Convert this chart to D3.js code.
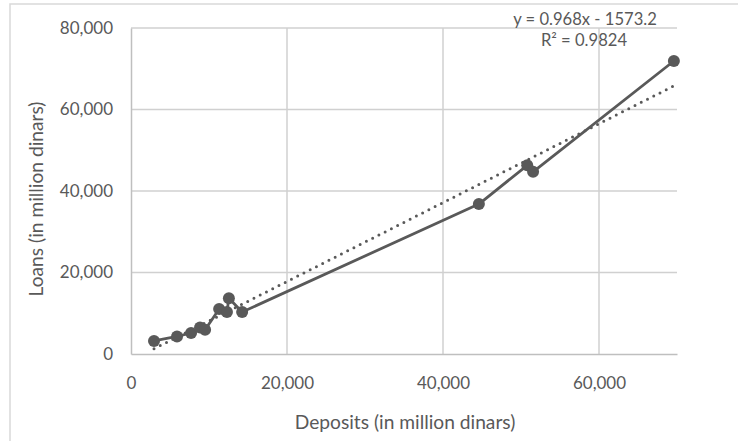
<!DOCTYPE html>
<html>
<head>
<meta charset="utf-8">
<script src="https://cdn.jsdelivr.net/npm/d3@7"></script>
<style>
  html, body { margin: 0; padding: 0; background: #fff; }
  svg { display: block; }
  text { font-family: Lato, "Open Sans", sans-serif; fill: #595959; }
</style>
</head>
<body>
<svg id="chart" width="738" height="441"></svg>
<script>
// ---- data ----
const deposits = [2950, 5900, 7700, 8850, 9500, 11300, 12300, 12550, 14250, 44600, 50800, 51550, 69600];
const loans    = [3200, 4300, 5150, 6500, 5950, 11050, 10300, 13700, 10300, 36800, 46300, 44700, 71900];
const xTicks = [0, 20000, 40000, 60000];
const yTicks = [0, 20000, 40000, 60000, 80000];
const trendSlope = 0.968;
const trendIntercept = -1573.2;
const equationLines = ["y = 0.968x - 1573.2", "R² = 0.9824"];
const xTitle = "Deposits (in million dinars)";
const yTitle = "Loans (in million dinars)";

// ---- layout ----
const W = 738, H = 441;
const plot = { left: 131, right: 677, top: 28, bottom: 354 };
const svg = d3.select("#chart");

// outer frame (top + left visible)
svg.append("path")
  .attr("d", `M10,${H} L10,4 L${W},4`)
  .attr("fill", "none").attr("stroke", "#d9d9d9").attr("stroke-width", 1.5);

const x = d3.scaleLinear().domain([0, 70000]).range([plot.left, plot.right]);
const y = d3.scaleLinear().domain([0, 80000]).range([plot.bottom, plot.top]);
const fmt = d3.format(",");

// gridlines
const grid = svg.append("g");
grid.selectAll("line.h").data(yTicks.filter(d => d > 0)).enter().append("line")
  .attr("x1", plot.left).attr("x2", plot.right)
  .attr("y1", d => y(d)).attr("y2", d => y(d))
  .attr("stroke", "#d0d0d0").attr("stroke-width", 1.5);
grid.selectAll("line.v").data(xTicks.filter(d => d > 0)).enter().append("line")
  .attr("x1", d => x(d)).attr("x2", d => x(d))
  .attr("y1", plot.top).attr("y2", plot.bottom)
  .attr("stroke", "#d0d0d0").attr("stroke-width", 1.5);

// axes
const xAxis = svg.append("g").attr("transform", `translate(0,${plot.bottom})`)
  .call(d3.axisBottom(x).tickValues(xTicks).tickFormat(fmt).tickSize(0).tickPadding(23));
const yAxis = svg.append("g").attr("transform", `translate(${plot.left},0)`)
  .call(d3.axisLeft(y).tickValues(yTicks).tickFormat(fmt).tickSize(0).tickPadding(18));
[xAxis, yAxis].forEach(a => {
  a.select(".domain").attr("stroke", "#bfbfbf").attr("stroke-width", 1.5);
  a.selectAll("text").style("font-size", "17px").attr("fill", "#595959")
    .style("font-family", "Lato, 'Open Sans', sans-serif");
});

// trend line (dotted)
const xr = d3.extent(deposits);
svg.append("line")
  .attr("x1", x(xr[0])).attr("y1", y(trendSlope * xr[0] + trendIntercept))
  .attr("x2", x(xr[1])).attr("y2", y(trendSlope * xr[1] + trendIntercept))
  .attr("stroke", "#595959").attr("stroke-width", 3)
  .attr("stroke-dasharray", "0,7").attr("stroke-linecap", "round");

// data line
const pts = deposits.map((d, i) => [d, loans[i]]);
svg.append("path")
  .attr("d", d3.line().x(d => x(d[0])).y(d => y(d[1]))(pts))
  .attr("fill", "none").attr("stroke", "#595959").attr("stroke-width", 2.8)
  .attr("stroke-linejoin", "round");

svg.append("g").selectAll("circle").data(pts).enter().append("circle")
  .attr("cx", d => x(d[0])).attr("cy", d => y(d[1])).attr("r", 6)
  .attr("fill", "#595959");

// equation
svg.append("text").attr("x", 585).attr("y", 25).attr("text-anchor", "middle")
  .style("font-size", "16.6px").text(equationLines[0]);
svg.append("text").attr("x", 584).attr("y", 46).attr("text-anchor", "middle")
  .style("font-size", "16.6px").text(equationLines[1]);

// titles
svg.append("text").attr("x", 405).attr("y", 429).attr("text-anchor", "middle")
  .style("font-size", "19.2px").text(xTitle);
svg.append("text").attr("transform", "translate(43,199) rotate(-90)")
  .attr("text-anchor", "middle").style("font-size", "19.2px").text(yTitle);
</script>
</body>
</html>
